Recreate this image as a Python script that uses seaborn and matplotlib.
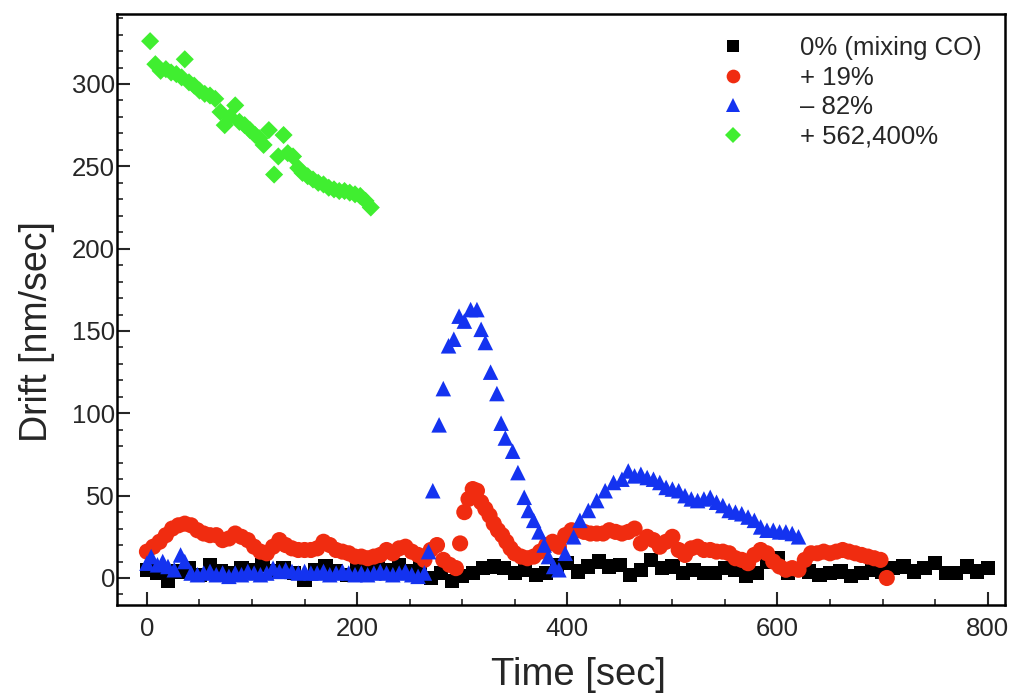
import matplotlib
matplotlib.use("Agg")
import pandas as pd
import matplotlib.pyplot as plt
import seaborn as sns
from matplotlib.ticker import MultipleLocator

LABELS = ["0% (mixing CO)", "+ 19%", "\u2013 82%", "+ 562,400%"]
COLORS = ["#000000", "#f02c10", "#1433f0", "#40ee30"]
MARKERS = ["s", "o", "^", "D"]
SIZES = [105, 135, 125, 85]

# 0% (mixing CO)
black_t = [0, 10, 20, 30, 40, 50, 60, 70, 80, 90, 100, 110, 120, 130, 140, 150, 160,
           170, 180, 190, 200, 210, 220, 230, 240, 250, 260, 270, 280, 290, 300, 310,
           320, 330, 340, 350, 360, 370, 380, 390, 400, 410, 420, 430, 440, 450, 460,
           470, 480, 490, 500, 510, 520, 530, 540, 550, 560, 570, 580, 590, 600, 610,
           620, 630, 640, 650, 660, 670, 680, 690, 700, 710, 720, 730, 740, 750, 760,
           770, 780, 790, 800]
black_v = [5, 3, -2, 4, 6, 2, 8, 4, 3, 6, 5, 8, 4, 6, 3, -1, 5,
           7, 4, 2, 6, 4, 7, 5, 8, 4, 6, 0, 3, -2, 1, 3,
           6, 7, 6, 3, 5, 2, 3, 8, 9, 4, 7, 10, 7, 8, 2,
           5, 11, 6, 7, 3, 5, 3, 3, 6, 5, 1, 3, 10, 12, 3,
           5, 4, 2, 3, 4, 1, 3, 5, 4, 6, 7, 4, 6, 9, 3,
           3, 7, 4, 6]

# + 19%
red_t = [0, 6, 12, 18, 24, 30, 36, 42, 48, 54, 60, 66, 72, 78, 84, 90, 96, 102, 108,
         114, 120, 126, 132, 138, 144, 150, 156, 162, 168, 174, 180, 186, 192, 198,
         204, 210, 216, 222, 228, 234, 240, 246, 252, 258, 264, 270, 276, 282, 288,
         294, 298, 302, 306, 310, 314, 318, 322, 326, 330, 334, 338, 342, 346, 350,
         356, 362, 368, 374, 380, 386, 392, 398, 404, 410, 416, 422, 428, 434, 440,
         446, 452, 458, 464, 470, 476, 482, 488, 494, 500, 506, 512, 518, 524, 530,
         536, 542, 548, 554, 560, 566, 572, 578, 584, 590, 596, 602, 608, 614, 620,
         626, 632, 638, 644, 650, 656, 662, 668, 674, 680, 686, 692, 698, 704]
red_v = [16, 19, 22, 26, 30, 32, 33, 32, 29, 27, 26, 26, 23, 24, 27, 25, 23, 19, 16,
         15, 19, 23, 20, 18, 17, 17, 17, 18, 22, 20, 17, 16, 15, 13,
         13, 12, 13, 14, 17, 15, 18, 19, 16, 14, 11, 17, 20, 11, 8,
         6, 21, 40, 48, 54, 53, 46, 42, 38, 33, 29, 26, 22, 18, 15,
         13, 12, 13, 16, 20, 22, 19, 26, 29, 29, 28, 27, 27, 27, 29,
         28, 27, 28, 30, 21, 25, 23, 19, 22, 25, 17, 14, 18, 19, 17,
         17, 16, 16, 15, 12, 11, 9, 14, 17, 15, 10, 7, 5, 6, 5,
         11, 15, 15, 16, 15, 16, 17, 16, 15, 14, 13, 12, 11, 0]

# - 82%
blue_t = [0, 4, 10, 15, 20, 26, 32, 36, 42, 48, 54, 60, 66, 72, 78, 84, 90, 96, 102,
          108, 114, 120, 126, 132, 138, 144, 150, 156, 162, 168, 174, 180, 186, 192,
          198, 204, 210, 216, 222, 228, 234, 240, 246, 252, 258, 264, 268, 272, 278,
          282, 287, 292, 297, 302, 308, 314, 318, 322, 327, 333, 337, 341, 348, 353,
          359, 363, 368, 373, 378, 382, 387, 392, 398, 406, 412, 420, 428, 436, 444,
          452, 458, 464, 470, 476, 482, 488, 494, 500, 506, 512, 518, 524, 530, 536,
          542, 548, 554, 560, 566, 572, 578, 584, 590, 596, 602, 608, 614, 620]
blue_v = [9, 13, 8, 10, 7, 5, 14, 10, 3, 2, 3, 4, 2, 3, 1, 3, 2, 4, 3,
          2, 3, 6, 4, 5, 4, 3, 4, 3, 3, 4, 2, 3, 4, 3,
          2, 3, 2, 3, 4, 3, 2, 3, 4, 2, 1, 3, 16, 53, 93,
          115, 141, 145, 159, 156, 163, 163, 151, 143, 125, 112, 94, 85, 77, 64,
          49, 41, 35, 28, 20, 13, 7, 5, 15, 25, 35, 41, 47, 53, 58,
          60, 65, 62, 63, 61, 60, 58, 55, 54, 53, 50, 48, 47, 48, 49,
          46, 44, 41, 40, 39, 37, 35, 31, 29, 29, 28, 28, 27, 25]

# + 562,400%
green_t = [3, 8, 13, 18, 23, 28, 33, 36, 40, 45, 50, 55, 60, 65, 70, 74, 79, 84, 88,
           93, 98, 103, 107, 111, 116, 121, 125, 130, 134, 139, 144, 148, 153, 158,
           163, 168, 173, 178, 183, 188, 193, 198, 203, 208, 213]
green_v = [326, 312, 308, 309, 307, 306, 304, 315, 301, 299, 296, 294, 293, 291, 283,
           275, 280, 287, 277, 275, 272, 269, 267, 263, 272, 245, 256, 269, 258, 256,
           249, 246, 244, 242, 240, 239, 237, 236, 235, 235, 234, 233, 232, 229, 225]

series = [(black_t, black_v), (red_t, red_v), (blue_t, blue_v), (green_t, green_v)]
frames = []
for label, (t, v) in zip(LABELS, series):
    frames.append(pd.DataFrame({"time": t, "drift": v, "series": label}))
df = pd.concat(frames, ignore_index=True)

sns.set_style("ticks")
plt.rcParams["font.family"] = ["Liberation Sans", "DejaVu Sans"]

fig = plt.figure(figsize=(10.12, 7), dpi=100)
ax = fig.add_axes([117 / 1012, 1 - 605 / 700, 888 / 1012, 591 / 700])

sns.scatterplot(
    data=df, x="time", y="drift",
    hue="series", style="series", size="series",
    hue_order=LABELS, style_order=LABELS, size_order=LABELS,
    palette=dict(zip(LABELS, COLORS)),
    markers=dict(zip(LABELS, MARKERS)),
    sizes=dict(zip(LABELS, SIZES)),
    linewidth=0, edgecolor="none", alpha=1, ax=ax,
)

ax.set_xlim(-28.5, 816.5)
ax.set_ylim(-16.4, 342.5)
ax.xaxis.set_major_locator(MultipleLocator(200))
ax.xaxis.set_minor_locator(MultipleLocator(50))
ax.yaxis.set_major_locator(MultipleLocator(50))
ax.yaxis.set_minor_locator(MultipleLocator(10))
ax.tick_params(which="major", direction="in", length=9.5, width=1.5, labelsize=18.5)
ax.tick_params(which="minor", direction="in", length=4.5, width=1.2)
ax.tick_params(axis="x", which="major", pad=9)
ax.tick_params(axis="y", which="major", pad=1.5)
for sp in ax.spines.values():
    sp.set_linewidth(1.8)
    sp.set_color("black")

ax.set_xlabel("Time [sec]", fontsize=27.5)
ax.set_ylabel("Drift [nm/sec]", fontsize=27)
ax.xaxis.set_label_coords(0.52, -0.088)
ax.yaxis.set_label_coords(-0.07, 0.462)

handles, labels = ax.get_legend_handles_labels()
ax.legend(handles, labels, loc="upper left",
          bbox_to_anchor=(720 / 1012, 1 - 36 / 700), bbox_transform=fig.transFigure,
          frameon=False, fontsize=18.5, handlelength=1.0, handletextpad=2.1,
          labelspacing=0.22, borderpad=0, borderaxespad=0, markerscale=0.85)

fig.savefig("out.png", dpi=100)
